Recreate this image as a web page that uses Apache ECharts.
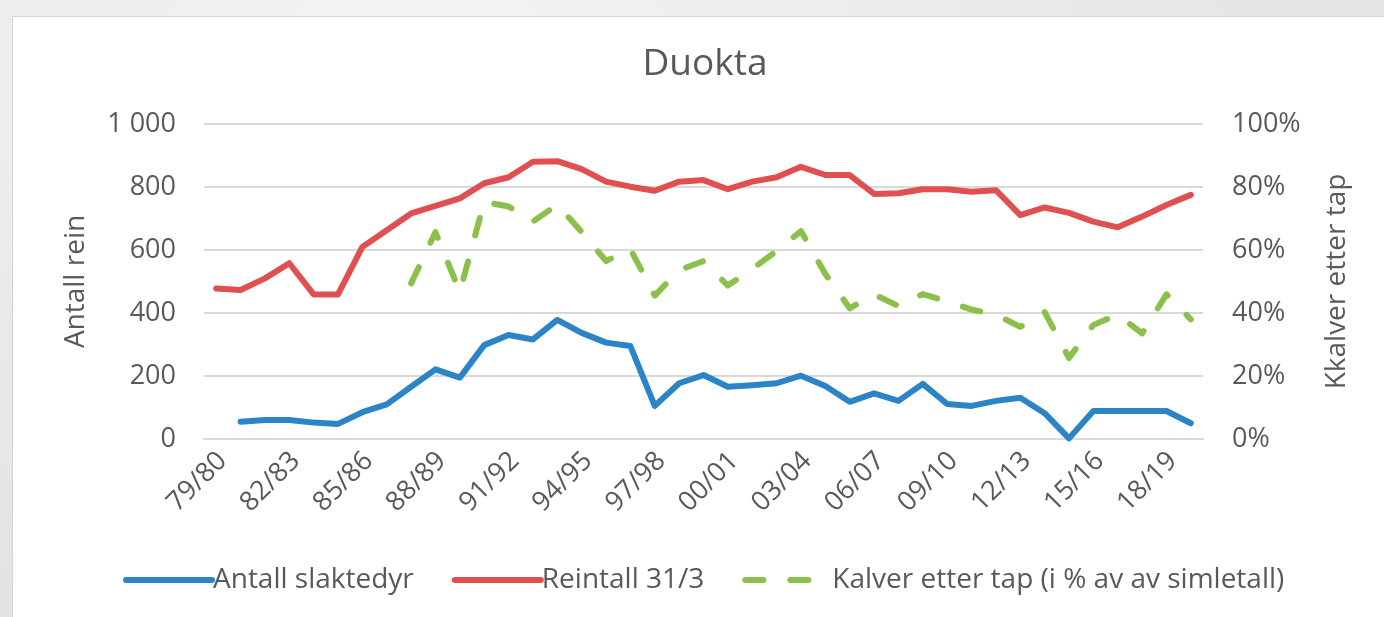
<!DOCTYPE html>
<html>
<head>
<meta charset="utf-8">
<script src="https://cdn.jsdelivr.net/npm/echarts@6/dist/echarts.min.js"></script>
<style>
  html, body { margin: 0; padding: 0; }
  body {
    width: 1384px; height: 617px; overflow: hidden; position: relative;
    background: radial-gradient(ellipse at 30% 10%, #f4f4f4 0%, #e6e6e6 60%, #dedede 100%);
  }
  .panel {
    position: absolute; left: 12px; top: 16px; right: -2px; bottom: -2px;
    background: #fff; border: 1px solid #d4d4d4;
  }
  .echarts { position: absolute; left: 0; top: 0; width: 1384px; height: 617px; }
</style>
</head>
<body>
<div class="panel"></div>
<div class="echarts" id="chart"></div>
<script>
const seasons = [
  '79/80', '80/81', '81/82', '82/83', '83/84', '84/85', '85/86', '86/87', '87/88', '88/89',
  '89/90', '90/91', '91/92', '92/93', '93/94', '94/95', '95/96', '96/97', '97/98', '98/99',
  '99/00', '00/01', '01/02', '02/03', '03/04', '04/05', '05/06', '06/07', '07/08', '08/09',
  '09/10', '10/11', '11/12', '12/13', '13/14', '14/15', '15/16', '16/17', '17/18', '18/19',
  '19/20'
]

// Antall slaktedyr
const slaktedyr = [
  null, 55, 60, 60, 52, 48, 85, 110, 166, 221,
  195, 298, 330, 316, 378, 337, 306, 295, 105, 177,
  203, 166, 171, 177, 201, 168, 118, 145, 121, 175,
  111, 105, 121, 131, 82, 2, 89, 89, 89, 89,
  50
]

// Reintall 31/3
const reintall = [
  478, 473, 510, 558, 459, 459, 610, 663, 716, 740,
  764, 812, 831, 880, 882, 857, 817, 801, 788, 817,
  822, 793, 817, 831, 864, 838, 838, 778, 780, 793,
  793, 785, 790, 711, 735, 718, 690, 672, 706, 743,
  775
]

// Kalver etter tap, prosent
const kalver = [
  null, null, null, null, null, null, null, null, 49.4, 65.7,
  46.7, 75.3, 73.8, 69, 74.4, 65.7, 56.5, 60.3, 45.5, 53.6,
  56.5, 48.7, 54, 59.7, 66, 52.4, 41.5, 45.9, 42.2, 46,
  43.7, 41.1, 39.5, 35.6, 40.3, 25.7, 36.2, 39.5, 33.5, 45.9,
  38
]

const textColor = '#595959'
const font = '"Open Sans", sans-serif'

const options = {
  animation: false,
  title: {
    text: 'Duokta',
    left: 700,
    textAlign: 'center',
    top: 41,
    textStyle: { color: textColor, fontSize: 37, fontWeight: 'normal', fontFamily: font },
  },
  grid: {
    left: 204,
    right: 181,
    top: 124,
    bottom: 178,
    outerBoundsMode: 'none',
  },
  legend: {
    left: 118,
    top: 561,
    itemWidth: 86,
    itemHeight: 14,
    itemGap: 38,
    // excel-style legend: line only, no marker
    itemStyle: { opacity: 0 },
    lineStyle: { width: 6, cap: 'round' },
    textStyle: { color: textColor, fontSize: 28, fontFamily: font, padding: [0, 0, 0, -4] },
    data: ['Antall slaktedyr', 'Reintall 31/3', 'Kalver etter tap (i % av av simletall)'],
  },
  xAxis: {
    type: 'category',
    data: seasons,
    boundaryGap: true,
    axisTick: { show: false },
    axisLine: { lineStyle: { color: '#d9d9d9', width: 2 } },
    axisLabel: {
      interval: 2,
      rotate: 45,
      margin: 24,
      color: textColor,
      fontSize: 27,
      fontFamily: font,
      padding: [50, -9, 0, 0],
    },
  },
  yAxis: [
    {
      type: 'value',
      min: 0,
      max: 1000,
      interval: 200,
      name: 'Antall rein',
      nameLocation: 'middle',
      nameRotate: 90,
      nameGap: 114,
      nameTextStyle: { color: textColor, fontSize: 28, fontFamily: font },
      axisLine: { show: false },
      axisTick: { show: false },
      axisLabel: {
        margin: 28,
        color: textColor,
        fontSize: 27,
        fontFamily: font,
        formatter: v => (v >= 1000 ? Math.floor(v / 1000) + ' ' + String(v % 1000).padStart(3, '0') : String(v)),
      },
      splitLine: { lineStyle: { color: '#d9d9d9', width: 2 } },
    },
    {
      type: 'value',
      min: 0,
      max: 100,
      interval: 20,
      name: 'Kkalver etter tap',
      nameLocation: 'middle',
      nameRotate: 90,
      nameGap: 120,
      nameTextStyle: { color: textColor, fontSize: 28, fontFamily: font },
      axisLine: { show: false },
      axisTick: { show: false },
      axisLabel: {
        margin: 29,
        color: textColor,
        fontSize: 27,
        fontFamily: font,
        formatter: '{value}%',
      },
      splitLine: { show: false },
    },
  ],
  series: [
    {
      name: 'Antall slaktedyr',
      type: 'line',
      data: slaktedyr,
      symbol: 'none',
      itemStyle: { color: '#2a84c6' },
      lineStyle: { color: '#2a84c6', width: 6, cap: 'round', join: 'round' },
    },
    {
      name: 'Reintall 31/3',
      type: 'line',
      data: reintall,
      symbol: 'none',
      itemStyle: { color: '#e05050' },
      lineStyle: { color: '#e05050', width: 6, cap: 'round', join: 'round' },
    },
    {
      name: 'Kalver etter tap (i % av av simletall)',
      type: 'line',
      yAxisIndex: 1,
      data: kalver,
      symbol: 'none',
      itemStyle: { color: '#8bc04b' },
      lineStyle: { color: '#8bc04b', width: 6, type: [18, 27], cap: 'round', join: 'round' },
    },
  ],
}

const chart = echarts.init(document.getElementById('chart'))
chart.setOption(options)
window.addEventListener('resize', function () {
  chart && chart.resize()
})
</script>
</body>
</html>
